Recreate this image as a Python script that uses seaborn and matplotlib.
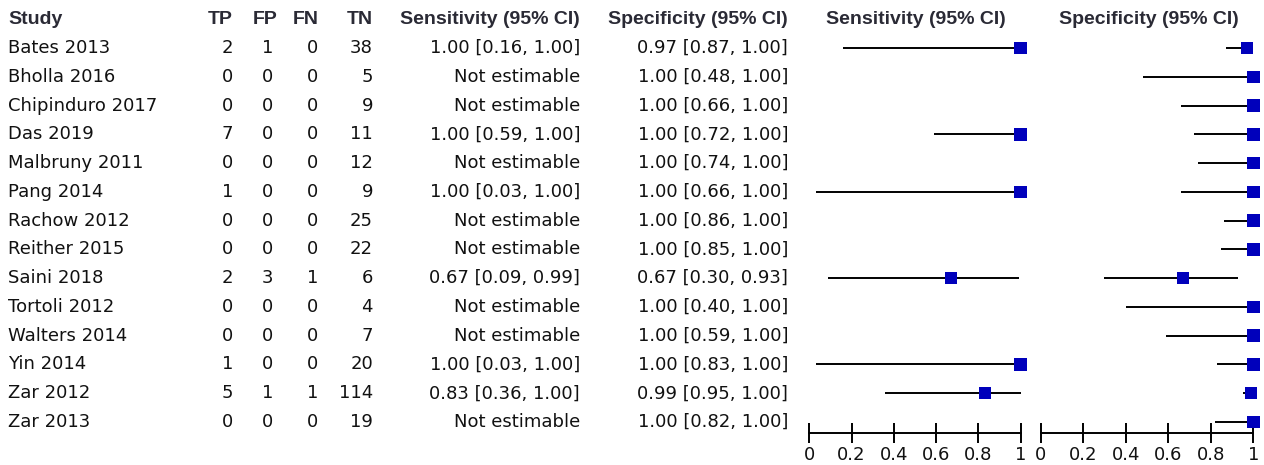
import numpy as np
import pandas as pd
import matplotlib
matplotlib.use("Agg")
import matplotlib.pyplot as plt
import seaborn as sns

studies = ["Bates 2013", "Bholla 2016", "Chipinduro 2017", "Das 2019", "Malbruny 2011",
           "Pang 2014", "Rachow 2012", "Reither 2015", "Saini 2018", "Tortoli 2012",
           "Walters 2014", "Yin 2014", "Zar 2012", "Zar 2013"]
tp = [2, 0, 0, 7, 0, 1, 0, 0, 2, 0, 0, 1, 5, 0]
fp = [1, 0, 0, 0, 0, 0, 0, 0, 3, 0, 0, 0, 1, 0]
fn = [0, 0, 0, 0, 0, 0, 0, 0, 1, 0, 0, 0, 1, 0]
tn = [38, 5, 9, 11, 12, 9, 25, 22, 6, 4, 7, 20, 114, 19]
nan = np.nan
sens = [1.00, nan, nan, 1.00, nan, 1.00, nan, nan, 0.67, nan, nan, 1.00, 0.83, nan]
sens_lo = [0.16, nan, nan, 0.59, nan, 0.03, nan, nan, 0.09, nan, nan, 0.03, 0.36, nan]
sens_hi = [1.00, nan, nan, 1.00, nan, 1.00, nan, nan, 0.99, nan, nan, 1.00, 1.00, nan]
spec = [0.97, 1.00, 1.00, 1.00, 1.00, 1.00, 1.00, 1.00, 0.67, 1.00, 1.00, 1.00, 0.99, 1.00]
spec_lo = [0.87, 0.48, 0.66, 0.72, 0.74, 0.66, 0.86, 0.85, 0.30, 0.40, 0.59, 0.83, 0.95, 0.82]
spec_hi = [1.00, 1.00, 1.00, 1.00, 1.00, 1.00, 1.00, 1.00, 0.93, 1.00, 1.00, 1.00, 1.00, 1.00]
tick_vals = [0, 0.2, 0.4, 0.6, 0.8, 1]
tick_labels = ["0", "0.2", "0.4", "0.6", "0.8", "1"]
headers = ["Study", "TP", "FP", "FN", "TN", "Sensitivity (95% CI)", "Specificity (95% CI)"]
plot_titles = ["Sensitivity (95% CI)", "Specificity (95% CI)"]

sns.set_theme(style="white")
plt.rcParams["font.family"] = ["DejaVu Sans"]

df = pd.DataFrame({"study": studies, "tp": tp, "fp": fp, "fn": fn, "tn": tn,
                   "sens": sens, "sens_lo": sens_lo, "sens_hi": sens_hi,
                   "spec": spec, "spec_lo": spec_lo, "spec_hi": spec_hi})
df["row"] = np.arange(len(df))

W, H = 1264, 465
fig = plt.figure(figsize=(W / 100, H / 100), dpi=100)

y0, dy = 48.0, 28.77  # pixel y of first row, row spacing


def row_of(py):
    return (py - y0) / dy


# text axes covering the whole figure
axt = fig.add_axes([0, 0, 1, 1])
axt.set_xlim(0, W)
axt.set_ylim(row_of(H), row_of(0))
axt.axis("off")

txt_color = "#111111"
hdr_color = "#2a2a35"
fs = 13
hy = row_of(19)
hdr_kw = dict(fontsize=14, fontweight="bold", color=hdr_color, va="center",
              family=["Liberation Sans", "DejaVu Sans"])
axt.text(8, hy, headers[0], ha="left", **hdr_kw)
hdr_x = [233, 277, 319, 373]
col_x = [233, 273, 318, 373]
for x, h in zip(hdr_x, headers[1:5]):
    axt.text(x, hy, h, ha="right", **hdr_kw)
axt.text(580, hy, headers[5], ha="right", **hdr_kw)
axt.text(788, hy, headers[6], ha="right", **hdr_kw)
axt.text(916, hy, plot_titles[0], ha="center", **hdr_kw)
axt.text(1149, hy, plot_titles[1], ha="center", **hdr_kw)


def fmt(v, lo, hi):
    if np.isnan(v):
        return "Not estimable"
    return f"{v:.2f} [{lo:.2f}, {hi:.2f}]"


for _, r in df.iterrows():
    y = r["row"]
    kw = dict(fontsize=fs, color=txt_color, va="center")
    axt.text(8, y, r["study"], ha="left", **kw)
    for x, c in zip(col_x, ["tp", "fp", "fn", "tn"]):
        axt.text(x, y, str(int(r[c])), ha="right", **kw)
    axt.text(580, y, fmt(r["sens"], r["sens_lo"], r["sens_hi"]), ha="right", **kw)
    axt.text(788, y, fmt(r["spec"], r["spec_lo"], r["spec_hi"]), ha="right", **kw)

# forest axes
ax_top_px, ax_bot_px = 30, 433
ylim = (row_of(ax_bot_px), row_of(ax_top_px))
panels = [(809.3, 1020.7, "sens"), (1040.7, 1253.3, "spec")]
for x0, x1, key in panels:
    ax = fig.add_axes([x0 / W, 1 - ax_bot_px / H, (x1 - x0) / W, (ax_bot_px - ax_top_px) / H])
    sub = df.dropna(subset=[key])
    ax.hlines(sub["row"], sub[key + "_lo"], sub[key + "_hi"], color="black", lw=1.4, zorder=2)
    sns.scatterplot(data=sub, x=key, y="row", marker="s", color="#0000BB", s=80,
                    edgecolor="none", linewidth=0, ax=ax, zorder=3, clip_on=False, legend=False)
    ax.set_xlim(0, 1)
    ax.set_ylim(*ylim)
    ax.set_facecolor("none")
    for s in ["top", "left", "right"]:
        ax.spines[s].set_visible(False)
    ax.spines["bottom"].set_color("black")
    ax.spines["bottom"].set_linewidth(1.4)
    ax.set_xticks(tick_vals)
    ax.set_xticklabels(tick_labels)
    ax.set_yticks([])
    ax.set_xlabel("")
    ax.set_ylabel("")
    ax.tick_params(axis="x", direction="inout", length=14, width=1.4, color="black",
                   labelsize=fs, labelcolor=txt_color, pad=2, bottom=True)

fig.savefig("out.png", dpi=100)
